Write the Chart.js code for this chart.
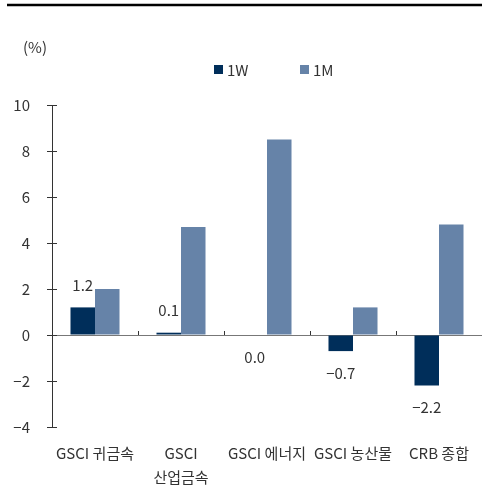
<!DOCTYPE html>
<html>
<head>
<meta charset="utf-8">
<script src="https://cdn.jsdelivr.net/npm/chart.js@4/dist/chart.umd.min.js"></script>
<style>
	html, body { margin: 0; padding: 0; background: #fff; }
	#wrap { position: relative; width: 482px; height: 490px; }
</style>
</head>
<body>
<div id="wrap"><canvas id="chart"></canvas></div>
<script>
const categories = ["GSCI 귀금속", ["GSCI", "산업금속"], "GSCI 에너지", "GSCI 농산물", "CRB 종합"];
const weekData = [1.2, 0.1, 0.0, -0.7, -2.2];
const monthData = [2.0, 4.7, 8.5, 1.2, 4.8];
const yTicks = [-4, -2, 0, 2, 4, 6, 8, 10];

const fontFamily = "'Noto Sans CJK KR', 'Noto Sans', sans-serif";
const textColor = "#333";
const minus = (v, digits) => (v < 0 ? "\u2212" : "") + Math.abs(v).toFixed(digits);

const decorations = {
	id: "decorations",
	beforeDatasetsDraw(chart) {
		const { ctx, chartArea, scales } = chart;
		const y0 = scales.y.getPixelForValue(0);
		ctx.save();
		// top rule
		ctx.strokeStyle = "#000";
		ctx.lineWidth = 2.5;
		ctx.beginPath();
		ctx.moveTo(7, 5);
		ctx.lineTo(482, 5);
		ctx.stroke();
		// zero line
		ctx.strokeStyle = "#777";
		ctx.lineWidth = 1;
		ctx.beginPath();
		ctx.moveTo(chartArea.left, Math.round(y0) + 0.5);
		ctx.lineTo(chartArea.right, Math.round(y0) + 0.5);
		ctx.stroke();
		// category ticks on zero line
		const n = categories.length;
		ctx.strokeStyle = "#333";
		for (let i = 1; i < n; i++) {
			const x = Math.round(chartArea.left + (chartArea.right - chartArea.left) * i / n) + 0.5;
			ctx.beginPath();
			ctx.moveTo(x, y0 - 4);
			ctx.lineTo(x, y0);
			ctx.stroke();
		}
		// inner y ticks
		yTicks.forEach((v) => {
			const y = Math.round(scales.y.getPixelForValue(v)) + 0.5;
			ctx.beginPath();
			ctx.moveTo(chartArea.left, y);
			ctx.lineTo(chartArea.left + 5, y);
			ctx.stroke();
		});
		// unit
		ctx.fillStyle = textColor;
		ctx.font = "15px " + fontFamily;
		ctx.textAlign = "left";
		ctx.textBaseline = "middle";
		ctx.fillText("(%)", 23, 47);
		// legend
		const items = chart.data.datasets.map((d, i) => ({ label: d.label, color: d.backgroundColor, x: [214, 300][i] }));
		items.forEach((it) => {
			ctx.fillStyle = it.color;
			ctx.fillRect(it.x, 65, 9, 9);
			ctx.fillStyle = textColor;
			ctx.fillText(it.label, it.x + 13, 70);
		});
		ctx.restore();
	},
	afterDatasetsDraw(chart) {
		const { ctx } = chart;
		const meta = chart.getDatasetMeta(0);
		ctx.save();
		ctx.fillStyle = textColor;
		ctx.font = "15px " + fontFamily;
		ctx.textAlign = "center";
		ctx.textBaseline = "middle";
		meta.data.forEach((bar, i) => {
			const v = weekData[i];
			const y = v > 0 ? bar.y - 22 : bar.y + 22;
			ctx.fillText(minus(v, 1), bar.x, y);
		});
		ctx.restore();
	},
};

new Chart(document.getElementById("chart"), {
	type: "bar",
	data: {
		labels: categories,
		datasets: [
			{
				label: "1W",
				data: weekData,
				backgroundColor: "#002e5a",
				categoryPercentage: 0.57,
				barPercentage: 1,
			},
			{
				label: "1M",
				data: monthData,
				backgroundColor: "#6683a8",
				categoryPercentage: 0.57,
				barPercentage: 1,
			},
		],
	},
	options: {
		responsive: true,
		maintainAspectRatio: false,
		animation: false,
		layout: { padding: { top: 105, right: 0, left: 0, bottom: 0 } },
		plugins: {
			legend: { display: false },
			tooltip: { enabled: false },
		},
		scales: {
			x: {
				grid: { display: false },
				border: { display: false },
				ticks: {
					color: textColor,
					font: { family: fontFamily, size: 15, lineHeight: 1.6 },
					padding: 6,
					autoSkip: false,
					maxRotation: 0,
					minRotation: 0,
				},
				afterFit: (scale) => { scale.height = 63; },
			},
			y: {
				min: -4,
				max: 10,
				grid: {
					display: true,
					drawOnChartArea: false,
					drawTicks: true,
					tickLength: 5,
					tickColor: "#333",
				},
				border: { display: true, color: "#333", width: 1 },
				ticks: {
					stepSize: 2,
					color: textColor,
					font: { family: fontFamily, size: 15 },
					padding: 17,
					callback: (v) => minus(v, 0),
				},
				afterFit: (scale) => { scale.width = 52; },
			},
		},
	},
	plugins: [decorations],
});
</script>
</body>
</html>
